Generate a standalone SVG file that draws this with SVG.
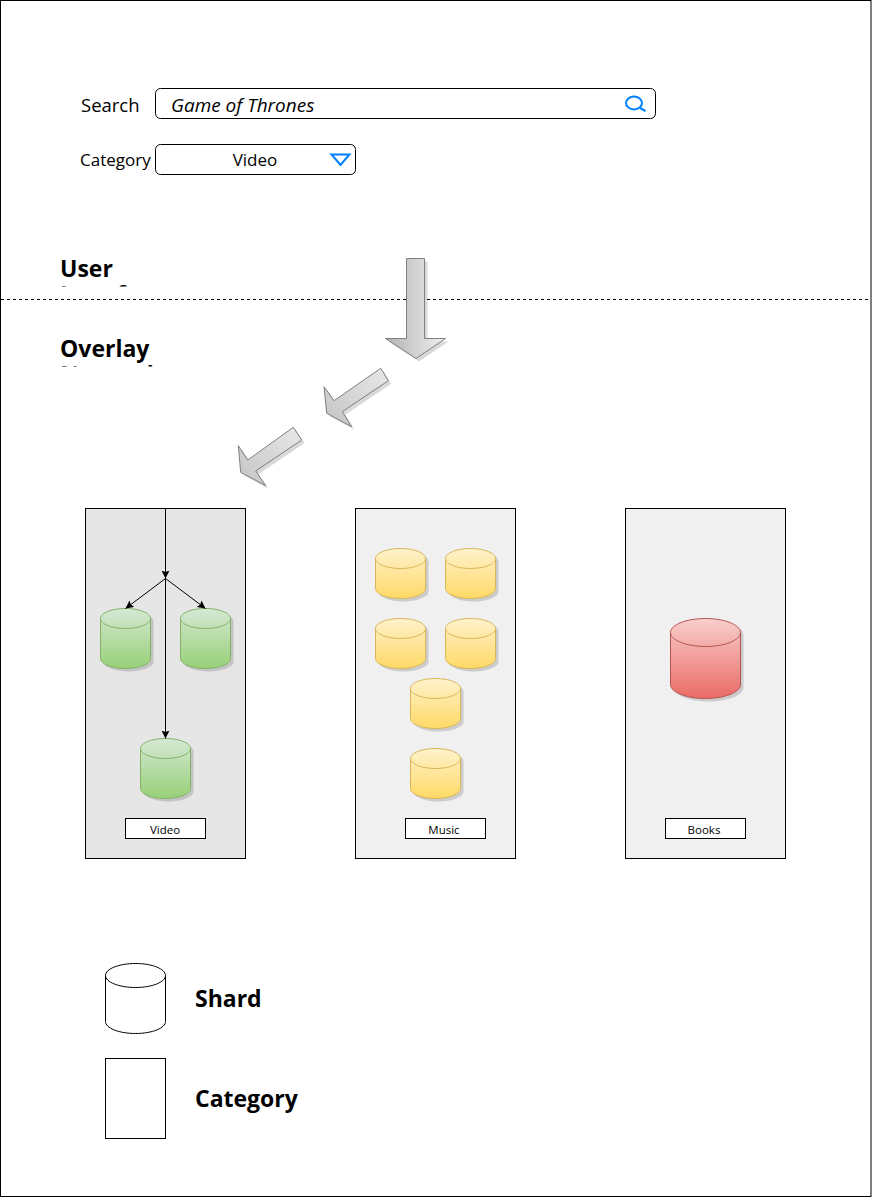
<svg xmlns="http://www.w3.org/2000/svg" width="873" height="1198" viewBox="0 0 873 1198">
<style>
text{font-family:"Open Sans","Noto Sans",sans-serif;fill:#000}
.f{font-size:17px}
.q{font-size:19px;font-style:italic}
.l{font-size:11.500px;text-anchor:middle}
.h{font-size:23px;font-weight:700}
.w{fill:#fff;stroke:#000;stroke-width:1}
.p{stroke:#000;stroke-width:1}
.c{stroke:#000;stroke-width:1;fill:none}
.gb{fill:url(#gG);stroke:#82b366}.gt{fill:none;stroke:#82b366}
.yb{fill:url(#gY);stroke:#d6b656}.yt{fill:none;stroke:#d6b656}
.rb{fill:url(#gR);stroke:#b85450}.rt{fill:none;stroke:#b85450}
.s{fill:#000;opacity:.15;stroke:none}
.a{fill:url(#gA);stroke:#808080;stroke-width:1}
.a2{fill:url(#gB);stroke:#808080;stroke-width:1}
</style>
<defs>
<linearGradient id="gG" x1="0" y1="0" x2="0" y2="1"><stop offset="0" stop-color="#d5e8d4"/><stop offset="1" stop-color="#97d077"/></linearGradient>
<linearGradient id="gY" x1="0" y1="0" x2="0" y2="1"><stop offset="0" stop-color="#fff2cc"/><stop offset="1" stop-color="#ffd966"/></linearGradient>
<linearGradient id="gR" x1="0" y1="0" x2="0" y2="1"><stop offset="0" stop-color="#f8cecc"/><stop offset="1" stop-color="#ea6b66"/></linearGradient>
<linearGradient id="gA" x1="0" y1="0" x2="1" y2="0"><stop offset="0" stop-color="#b3b3b3"/><stop offset="1" stop-color="#f0f0f0"/></linearGradient>
<linearGradient id="gB" x1="0" y1="1" x2="1" y2="0"><stop offset="0" stop-color="#c4c4c4"/><stop offset="1" stop-color="#e8e8e8"/></linearGradient>
<marker id="m" markerUnits="userSpaceOnUse" markerWidth="10" markerHeight="10" refX="8" refY="4" orient="auto"><path d="M0 0L8 4L0 8L1.500 4Z" fill="#000"/></marker>
<path id="cy" d="M0 10C0 4.500 11.200 0 25 0C38.800 0 50 4.500 50 10V50C50 55.500 38.800 60 25 60C11.200 60 0 55.500 0 50Z"/>
<path id="cs" d="M0 10C0 4.500 11.200 0 25 0C38.800 0 50 4.500 50 10V40C50 45.500 38.800 50 25 50C11.200 50 0 45.500 0 40Z"/>
<path id="cyt" d="M0 10C0 15.500 11.200 20 25 20C38.800 20 50 15.500 50 10"/>
<path id="a1" d="M406.500 258.500H424.500V338.500H445.500L416 358.500L385.500 338.500H406.500Z"/>
<path id="a2" d="M380.700 368.300L388.300 380.700L342.300 411.700L351.700 426.700L326.700 413.300L324 386.700L334 400.700Z"/>
<path id="a3" d="M293.300 427.300L301.700 440L255.700 471L265.700 485.700L240.700 472.300L238.300 445.700L247.700 460Z"/>
<clipPath id="cu"><rect x="50" y="250" width="120" height="36.500"/></clipPath>
<clipPath id="co"><rect x="50" y="330" width="120" height="36.500"/></clipPath>
</defs>
<rect id="frame" x="0.500" y="0.500" width="870.500" height="1196" fill="#fff" stroke="#000"/>
<g id="search-label"><text x="81" y="112" font-size="18.500">Search</text></g>
<g id="search-box"><rect class="w" x="155.500" y="88.500" width="500" height="30" rx="5"/><text class="q" x="171" y="112">Game of Thrones</text><ellipse cx="634" cy="103" rx="8" ry="6.500" fill="none" stroke="#007fff" stroke-width="2"/><path d="M640 108L645.500 111" stroke="#007fff" stroke-width="2" fill="none"/></g>
<g id="category-label"><text class="f" x="80" y="166">Category</text></g>
<g id="category-box"><rect class="w" x="155.500" y="144.500" width="200" height="30" rx="5"/><text class="f" x="255" y="166" text-anchor="middle">Video</text><path d="M331.500 154.500H349.500L340.500 165Z" fill="none" stroke="#007fff" stroke-width="2"/></g>
<g id="layer-user"><text class="h" x="60" y="277">User</text><text class="h" x="60" y="303" clip-path="url(#cu)">Interface</text></g>
<path id="divider" d="M1 299.500H871" stroke="#000" stroke-dasharray="3 3" fill="none"/>
<g id="layer-overlay"><text class="h" x="60" y="357">Overlay</text><text class="h" x="60" y="383" clip-path="url(#co)">Network</text></g>
<g id="arrow-1"><use href="#a1" class="s" x="3" y="3"/><use href="#a1" class="a"/></g>
<g id="arrow-2"><use href="#a2" class="s" x="3" y="3"/><use href="#a2" class="a2"/></g>
<g id="arrow-3"><use href="#a3" class="s" x="3" y="3"/><use href="#a3" class="a2"/></g>
<g id="panel-video"><rect class="p" x="85.500" y="508.500" width="160" height="350" fill="#e6e6e6"/></g>
<g id="panel-music"><rect class="p" x="355.500" y="508.500" width="160" height="350" fill="#f0f0f0"/></g>
<g id="panel-books"><rect class="p" x="625.500" y="508.500" width="160" height="350" fill="#f0f0f0"/></g>
<g id="video-shard-1" transform="translate(100.500 608.500)"><use href="#cy" class="s" x="3" y="3"/><use href="#cy" class="gb"/><use href="#cyt" class="gt"/></g>
<g id="video-shard-2" transform="translate(180.500 608.500)"><use href="#cy" class="s" x="3" y="3"/><use href="#cy" class="gb"/><use href="#cyt" class="gt"/></g>
<g id="video-shard-3" transform="translate(140.500 738.500)"><use href="#cy" class="s" x="3" y="3"/><use href="#cy" class="gb"/><use href="#cyt" class="gt"/></g>
<g id="music-shard-1" transform="translate(375.500 548.500)"><use href="#cs" class="s" x="3" y="3"/><use href="#cs" class="yb"/><use href="#cyt" class="yt"/></g>
<g id="music-shard-2" transform="translate(445.500 548.500)"><use href="#cs" class="s" x="3" y="3"/><use href="#cs" class="yb"/><use href="#cyt" class="yt"/></g>
<g id="music-shard-3" transform="translate(375.500 618.500)"><use href="#cs" class="s" x="3" y="3"/><use href="#cs" class="yb"/><use href="#cyt" class="yt"/></g>
<g id="music-shard-4" transform="translate(445.500 618.500)"><use href="#cs" class="s" x="3" y="3"/><use href="#cs" class="yb"/><use href="#cyt" class="yt"/></g>
<g id="music-shard-5" transform="translate(410.500 678.500)"><use href="#cs" class="s" x="3" y="3"/><use href="#cs" class="yb"/><use href="#cyt" class="yt"/></g>
<g id="music-shard-6" transform="translate(410.500 748.500)"><use href="#cs" class="s" x="3" y="3"/><use href="#cs" class="yb"/><use href="#cyt" class="yt"/></g>
<g id="books-shard"><path class="s" transform="translate(3 3)" d="M670.500 632.500C670.500 624.800 686.200 618.500 705.500 618.500C724.800 618.500 740.500 624.800 740.500 632.500V684.500C740.500 692.200 724.800 698.500 705.500 698.500C686.200 698.500 670.500 692.200 670.500 684.500Z"/><path class="rb" d="M670.500 632.500C670.500 624.800 686.200 618.500 705.500 618.500C724.800 618.500 740.500 624.800 740.500 632.500V684.500C740.500 692.200 724.800 698.500 705.500 698.500C686.200 698.500 670.500 692.200 670.500 684.500Z"/><path class="rt" d="M670.500 632.500C670.500 640.200 686.200 646.500 705.500 646.500C724.800 646.500 740.500 640.200 740.500 632.500"/></g>
<g id="connectors">
<path class="c" d="M165.500 508.500V578.500" marker-end="url(#m)"/>
<path class="c" d="M165.500 578.500L125.500 608.500" marker-end="url(#m)"/>
<path class="c" d="M165.500 578.500L205.500 608.500" marker-end="url(#m)"/>
<path class="c" d="M165.500 578.500V738.500" marker-end="url(#m)"/>
</g>
<g id="label-video"><rect class="w" x="125.500" y="818.500" width="80" height="20"/><text class="l" x="165" y="834">Video</text></g>
<g id="label-music"><rect class="w" x="405.500" y="818.500" width="80" height="20"/><text class="l" x="444" y="834">Music</text></g>
<g id="label-books"><rect class="w" x="665.500" y="818.500" width="80" height="20"/><text class="l" x="704" y="834">Books</text></g>
<g id="legend-shard"><path d="M105.500 975.500C105.500 968.900 118.900 963.500 135.500 963.500C152.100 963.500 165.500 968.900 165.500 975.500V1021.500C165.500 1028.100 152.100 1033.500 135.500 1033.500C118.900 1033.500 105.500 1028.100 105.500 1021.500Z" fill="#fff" stroke="#000"/><path d="M105.500 975.500C105.500 982.100 118.900 987.500 135.500 987.500C152.100 987.500 165.500 982.100 165.500 975.500" fill="none" stroke="#000"/><text class="h" x="195" y="1007">Shard</text></g>
<g id="legend-category"><rect class="w" x="105.500" y="1058.500" width="60" height="80"/><text class="h" x="195" y="1107">Category</text></g>
</svg>
